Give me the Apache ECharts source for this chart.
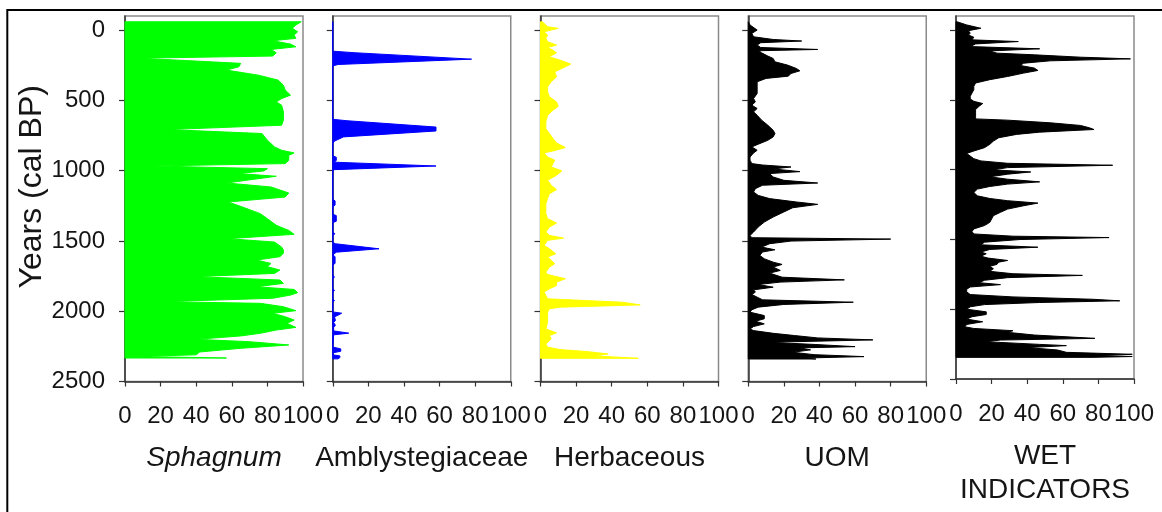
<!DOCTYPE html>
<html>
<head>
<meta charset="utf-8">
<title>Peat core profiles</title>
<script src="https://cdn.jsdelivr.net/npm/echarts@6/dist/echarts.min.js"></script>
<style>
  html, body { margin: 0; padding: 0; background: #fff; }
  #chart { width: 1162px; height: 512px; }
</style>
</head>
<body>
<div id="chart"></div>
<script>
// Panel titles (x-axis names)
const panelNames = ['Sphagnum', 'Amblystegiaceae', 'Herbaceous', 'UOM', 'WET\nINDICATORS'];
const panelColors = ['#00ff00', '#0000ff', '#ffff00', '#000000', '#000000'];

// Axis ticks
const yearTicks = [0, 500, 1000, 1500, 2000, 2500];
const percentTicks = [0, 20, 40, 60, 80, 100];

// Profiles: [age (cal BP), percentage]
const sphagnum = [
  [-59, 99], [-36, 96], [-12, 94], [12, 97], [36, 95], [59, 96], [76, 83], [100, 93], [119, 96],
  [138, 82], [161, 85], [185, 83], [200, 8], [237, 65], [261, 64], [285, 57], [321, 75], [356, 86],
  [392, 89], [427, 90], [463, 93], [487, 88], [511, 85], [534, 88], [582, 89], [641, 89], [677, 88],
  [708, 24], [736, 77], [784, 80], [831, 84], [855, 88], [874, 95], [891, 92], [926, 92], [950, 90],
  [967, 16], [986, 80], [1002, 78], [1021, 64], [1040, 85], [1069, 68], [1088, 57], [1116, 82],
  [1159, 92], [1188, 90], [1223, 58], [1259, 66], [1306, 76], [1342, 80], [1389, 85], [1425, 92],
  [1453, 95], [1484, 58], [1508, 84], [1544, 88], [1565, 89], [1588, 89], [1612, 87], [1636, 74],
  [1660, 82], [1683, 80], [1707, 87], [1731, 84], [1754, 40], [1778, 87], [1802, 89], [1826, 74],
  [1845, 95], [1868, 97], [1885, 93], [1908, 83], [1932, 22], [1944, 76], [1968, 89], [1996, 96],
  [2015, 83], [2039, 90], [2063, 95], [2086, 91], [2115, 96], [2134, 85], [2157, 76], [2176, 65],
  [2200, 40], [2217, 70], [2240, 92], [2264, 65], [2290, 42], [2310, 40], [2322, 8], [2333, 57]
];

const amblystegiaceae = [
  [-59, 0], [150, 0], [161, 12], [207, 78], [245, 3], [255, 0], [635, 0], [645, 8], [690, 58],
  [718, 58], [760, 6], [790, 1], [805, 0], [895, 0], [905, 2], [926, 2], [940, 1], [967, 58],
  [993, 1], [1005, 0], [1205, 0], [1215, 1.3], [1245, 1.3], [1255, 0], [1310, 0], [1320, 2],
  [1360, 2], [1370, 0], [1440, 0], [1449, 1.3], [1458, 0], [1510, 0], [1520, 1.5], [1556, 26],
  [1580, 2], [1600, 0], [1612, 1.3], [1660, 1.3], [1670, 0], [1745, 0], [1757, 1], [1768, 0],
  [1840, 0], [1852, 1], [1864, 0], [1915, 0], [1924, 1], [1933, 0], [2005, 0], [2014, 5],
  [2028, 3], [2040, 1], [2066, 1.5], [2080, 0.5], [2100, 1.5], [2115, 0.5], [2140, 0.5],
  [2156, 9], [2168, 0.5], [2255, 0], [2268, 4.5], [2285, 4.5], [2296, 0], [2310, 0], [2318, 4],
  [2330, 4], [2339, 3]
];

const herbaceous = [
  [-59, 1], [-24, 4], [-12, 10], [12, 2], [36, 4], [59, 3], [83, 4], [107, 9], [124, 4], [143, 7],
  [162, 9], [190, 5], [214, 11], [242, 17], [273, 12], [297, 8], [333, 9], [368, 6], [404, 4],
  [439, 4], [475, 5], [511, 9], [542, 10], [570, 7], [606, 4], [653, 3], [701, 3], [736, 5],
  [772, 7], [803, 9], [836, 14], [860, 7], [874, 2], [903, 4], [926, 8], [950, 7], [974, 6],
  [1002, 12], [1033, 9], [1069, 4], [1104, 6], [1135, 9], [1164, 5], [1199, 4], [1235, 3],
  [1271, 3], [1306, 3], [1342, 4], [1373, 9], [1401, 5], [1437, 3], [1461, 5], [1480, 13],
  [1496, 4], [1532, 2], [1556, 5], [1591, 8.5], [1615, 4], [1662, 8], [1686, 5], [1722, 3],
  [1739, 4], [1769, 14], [1793, 9], [1817, 9], [1841, 5], [1864, 2], [1888, 3], [1912, 4],
  [1936, 46], [1955, 56], [1971, 11], [1983, 5], [2007, 4], [2043, 4], [2078, 4], [2126, 3],
  [2154, 9], [2173, 5], [2197, 6], [2233, 3], [2256, 4], [2273, 11], [2287, 26], [2304, 38],
  [2318, 30], [2335, 55]
];

const uom = [
  [-59, 0], [-36, 1], [0, 5], [24, 2], [48, 3], [67, 14], [78, 30], [90, 7], [107, 5], [124, 7],
  [138, 39], [147, 6], [162, 7.5], [185, 11], [202, 14], [226, 15], [249, 22], [273, 27], [290, 29],
  [309, 24], [328, 22.5], [344, 10], [368, 5], [404, 5], [451, 5], [487, 3], [511, 4], [534, 2],
  [558, 5], [582, 3], [606, 5], [641, 7.5], [677, 11], [713, 14], [736, 15], [760, 14], [784, 11],
  [812, 5.6], [831, 2], [855, 5], [874, 3], [903, 1], [926, 1], [950, 2], [960, 8], [974, 24],
  [988, 14], [1007, 29], [1021, 12], [1045, 14], [1069, 20], [1088, 39], [1104, 8], [1128, 4],
  [1152, 3], [1176, 5.6], [1199, 12], [1223, 27], [1240, 39], [1264, 25], [1294, 20], [1330, 14],
  [1366, 9], [1401, 5.6], [1437, 3], [1461, 1], [1477, 2], [1487, 80], [1501, 24], [1520, 12],
  [1544, 7.5], [1563, 15], [1579, 8], [1603, 6.5], [1627, 9], [1651, 14], [1667, 19], [1686, 14],
  [1710, 18], [1729, 12], [1758, 19], [1777, 54], [1793, 18], [1810, 5.6], [1829, 14], [1848, 3],
  [1864, 4], [1881, 2], [1900, 5], [1919, 8], [1936, 59], [1952, 20], [1971, 5.6], [1990, 2],
  [2007, 1], [2031, 9], [2054, 9], [2071, 4], [2090, 9], [2109, 3], [2126, 1], [2138, 3],
  [2157, 14], [2173, 26], [2190, 39], [2204, 70], [2221, 12], [2237, 38], [2252, 60], [2261, 29],
  [2275, 35], [2292, 25], [2309, 37], [2323, 65], [2333, 32], [2340, 38]
];

const wetIndicators = [
  [-59, 0.5], [-36, 6], [-12, 14], [5, 7], [24, 8], [36, 7], [52, 10], [71, 9], [83, 35], [100, 11],
  [119, 8], [135, 47], [150, 19], [166, 23], [178, 44], [195, 70], [207, 98], [221, 53], [238, 38],
  [254, 36], [273, 44], [290, 46], [309, 38], [333, 29], [356, 19], [380, 11], [404, 10], [428, 10],
  [451, 9], [475, 8], [494, 8], [511, 10], [527, 15], [546, 13], [570, 11], [594, 11], [618, 11],
  [637, 11], [646, 29], [665, 53], [684, 70], [701, 75], [713, 77.5], [732, 47], [748, 34],
  [772, 24], [796, 21], [819, 19], [843, 16], [867, 10], [884, 6], [903, 8], [922, 10], [938, 14],
  [955, 29], [969, 88], [986, 29], [1002, 21], [1017, 42], [1033, 29], [1052, 19], [1069, 29],
  [1088, 47], [1104, 29], [1121, 19], [1140, 12], [1164, 10], [1188, 12], [1207, 19], [1223, 29],
  [1240, 46], [1259, 38], [1283, 29], [1306, 25], [1330, 21], [1354, 20], [1378, 19], [1401, 16],
  [1425, 10], [1444, 9], [1461, 10], [1477, 32], [1487, 86], [1501, 36], [1520, 16], [1539, 14],
  [1556, 46], [1572, 19], [1591, 14], [1603, 17], [1620, 14], [1634, 18], [1651, 29], [1663, 24],
  [1679, 23], [1693, 19], [1710, 21], [1729, 19], [1746, 32], [1758, 71], [1774, 29], [1793, 16],
  [1810, 13], [1824, 25], [1841, 8], [1857, 6], [1876, 6], [1895, 8], [1912, 32], [1929, 77],
  [1940, 92], [1952, 47], [1967, 16], [1983, 8], [2000, 6], [2019, 17], [2038, 17], [2054, 9],
  [2071, 6], [2090, 15], [2109, 6], [2126, 5], [2138, 10], [2154, 32], [2166, 29], [2185, 44],
  [2209, 78], [2221, 25], [2233, 17], [2252, 47], [2261, 62], [2275, 40], [2292, 57], [2309, 62],
  [2323, 99], [2332, 80], [2339, 99], [2345, 77]
];

const profiles = [sphagnum, amblystegiaceae, herbaceous, uom, wetIndicators];

// ---- layout ----
const FONT = '"Liberation Sans", Arial, sans-serif';
const TEXT_COLOR = '#151515';
const PANEL_LEFT = 125;
const PANEL_STEP = 207.75;
const PANEL_WIDTH = 178;
const PANEL_TOP = 16;
const PANEL_HEIGHT = 365.5;

// Filled profile: one closed polygon from the zero line out to each sample
function profileRenderer(points, color) {
  return function (params, api) {
    if (params.dataIndex !== 0) return;
    const poly = [api.coord([0, points[0][0]])];
    for (const p of points) poly.push(api.coord([p[1], p[0]]));
    poly.push(api.coord([0, points[points.length - 1][0]]));
    return {
      type: 'polygon',
      shape: { points: poly },
      style: { fill: color, stroke: color, lineWidth: 1 }
    };
  };
}

const grids = [], xAxes = [], yAxes = [], series = [];
profiles.forEach((points, i) => {
  grids.push({
    left: PANEL_LEFT + i * PANEL_STEP,
    top: PANEL_TOP,
    width: PANEL_WIDTH,
    height: PANEL_HEIGHT,
    show: true,
    backgroundColor: '#fff',
    borderColor: '#8a8a8a',
    borderWidth: 1.5
  });
  xAxes.push({
    gridIndex: i,
    type: 'value',
    min: 0,
    max: 100,
    interval: 20,
    position: 'bottom',
    name: panelNames[i],
    nameLocation: 'middle',
    nameGap: 60,
    nameTextStyle: {
      fontFamily: FONT,
      fontSize: 28,
      lineHeight: 34,
      color: TEXT_COLOR,
      fontStyle: i === 0 ? 'italic' : 'normal'
    },
    axisLine: { show: true, onZero: false, lineStyle: { color: '#333', width: 1.5 } },
    axisTick: { show: true, inside: false, length: 5, lineStyle: { color: '#333', width: 1.2 } },
    axisLabel: {
      show: true,
      margin: 23,
      fontFamily: FONT,
      fontSize: 24,
      color: TEXT_COLOR,
      showMinLabel: true,
      showMaxLabel: true,
      hideOverlap: false,
      customValues: percentTicks,
      formatter: v => String(v)
    },
    splitLine: { show: false }
  });
  yAxes.push({
    gridIndex: i,
    type: 'value',
    inverse: true,
    min: -100,
    max: 2500,
    name: i === 0 ? 'Years (cal BP)' : '',
    nameLocation: 'middle',
    nameGap: 67,
    nameRotate: 90,
    nameTextStyle: {
      fontFamily: FONT,
      fontSize: 32,
      color: TEXT_COLOR,
      padding: [0, 0, 0, 24]
    },
    axisLine: { show: true, onZero: false, lineStyle: { color: '#333', width: 1.5 } },
    axisTick: {
      show: true, inside: false, length: 6,
      customValues: yearTicks,
      lineStyle: { color: '#333', width: 1.2 }
    },
    axisLabel: {
      show: i === 0,
      margin: 20,
      fontFamily: FONT,
      fontSize: 24,
      color: TEXT_COLOR,
      customValues: yearTicks,
      formatter: v => String(v)
    },
    splitLine: { show: false }
  });
  series.push({
    type: 'custom',
    name: panelNames[i],
    xAxisIndex: i,
    yAxisIndex: i,
    renderItem: profileRenderer(points, panelColors[i]),
    encode: { x: 0, y: 1 },
    data: points.map(p => [p[1], p[0]]),
    silent: true,
    animation: false
  });
});

const chart = echarts.init(document.getElementById('chart'), null, { renderer: 'canvas' });
chart.setOption({
  backgroundColor: '#fff',
  animation: false,
  textStyle: { fontFamily: FONT },
  grid: grids,
  xAxis: xAxes,
  yAxis: yAxes,
  series: series,
  graphic: [{
    type: 'rect',
    z: 100,
    silent: true,
    shape: { x: 7.3, y: 10, width: 1400, height: 800 },
    style: { fill: null, stroke: '#000', lineWidth: 2 }
  }]
});
</script>
</body>
</html>
